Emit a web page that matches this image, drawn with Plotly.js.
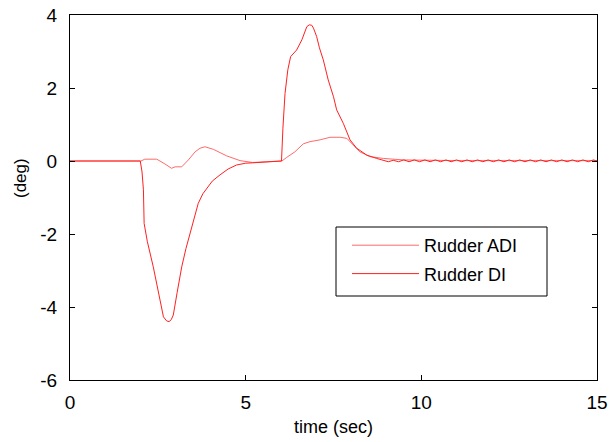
<!DOCTYPE html>
<html>
<head>
<meta charset="utf-8">
<script src="https://cdn.plot.ly/plotly-3.0.1.min.js"></script>
<style>html,body{margin:0;padding:0;background:#fff;}#chart{width:611px;height:442px;}</style>
</head>
<body>
<div id="chart"></div>
<script>
// Rudder DI (large excursion)
const tDI = [0, 2.0, 2.05, 2.09, 2.11, 2.2, 2.37, 2.5, 2.66, 2.75, 2.82, 2.88, 2.94, 3.05, 3.18, 3.3, 3.42, 3.55, 3.65, 3.78, 3.89, 4.05, 4.27, 4.5, 4.74, 5.0, 5.2, 5.6, 6.02, 6.06, 6.12, 6.2, 6.28, 6.45, 6.6, 6.74, 6.81, 6.88, 6.93, 7.02, 7.1, 7.21, 7.35, 7.5, 7.59, 7.78, 7.97, 8.16, 8.45, 8.73, 9.06,
  9.2, 9.35, 9.5, 9.65, 9.8, 9.95, 10.1, 10.25, 10.4, 10.55, 10.7, 10.85, 11.0, 11.15, 11.3, 11.45, 11.6, 11.75, 11.9, 12.05, 12.2, 12.35, 12.5, 12.65, 12.8, 12.95, 13.1, 13.25, 13.4, 13.55, 13.7, 13.85, 14.0, 14.15, 14.3, 14.45, 14.6, 14.75, 14.9, 15.0];
const yDI = [0, 0, -0.3, -0.79, -1.71, -2.2, -2.9, -3.5, -4.27, -4.38, -4.4, -4.35, -4.22, -3.6, -2.9, -2.4, -1.98, -1.5, -1.16, -0.9, -0.75, -0.55, -0.38, -0.22, -0.11, -0.06, -0.05, -0.02, 0, 0.9, 1.85, 2.5, 2.86, 3.04, 3.32, 3.68, 3.73, 3.72, 3.64, 3.41, 3.1, 2.77, 2.22, 1.76, 1.4, 1.03, 0.58, 0.35, 0.16, 0.07, -0.02,
  0.02, -0.02, 0.03, -0.02, 0.03, -0.02, 0.03, -0.02, 0.03, -0.02, 0.03, -0.02, 0.03, -0.02, 0.03, -0.02, 0.03, -0.02, 0.03, -0.02, 0.03, -0.02, 0.03, -0.02, 0.03, -0.02, 0.03, -0.02, 0.03, -0.02, 0.03, -0.02, 0.03, -0.02, 0.03, -0.02, 0.03, -0.02, 0.03, 0];
// Rudder ADI (small excursion)
const tADI = [0, 2.02, 2.13, 2.47, 2.7, 2.89, 2.99, 3.18, 3.37, 3.56, 3.7, 3.84, 4.08, 4.46, 4.84, 5.2, 5.6, 6.03, 6.17, 6.4, 6.64, 6.83, 7.12, 7.4, 7.69, 7.88, 8.06, 8.25, 8.54, 8.92, 9.49, 10, 11, 12, 13, 14, 15];
const yADI = [0, 0, 0.05, 0.05, -0.08, -0.2, -0.16, -0.16, 0.03, 0.25, 0.35, 0.39, 0.32, 0.14, 0.01, -0.04, -0.02, 0, 0.1, 0.25, 0.47, 0.53, 0.58, 0.65, 0.65, 0.62, 0.44, 0.25, 0.12, 0.07, 0.03, 0.02, 0.01, 0.01, 0.01, 0.01, 0.01];

const seriesNames = ['Rudder ADI', 'Rudder DI'];
const xTicks = [0, 5, 10, 15];
const xTickText = ['0', '5', '10', '15'];
const yTicks = [-6, -4, -2, 0, 2, 4];
const yTickText = ['-6', '-4', '-2', '0', '2', '4'];

const FONT = 'Arial, "Liberation Sans", sans-serif';

const traces = [
  {x: tADI, y: yADI, name: seriesNames[0], type: 'scatter', mode: 'lines',
   line: {color: '#ff6a6a', width: 1}, legendgroup: 'a'},
  {x: tDI, y: yDI, name: seriesNames[1], type: 'scatter', mode: 'lines',
   line: {color: '#ff2020', width: 1}, legendgroup: 'b'}
];

const W = 611, H = 442, L = 70, R = 14, T = 15, B = 62;
const pw = W - L - R, ph = H - T - B;
const px = v => (v - L) / pw;
const py = v => (H - B - v) / ph;

const layout = {
  width: W, height: H,
  margin: {l: L, r: R, t: T, b: B, pad: 0},
  paper_bgcolor: '#fff', plot_bgcolor: '#fff',
  font: {family: FONT, size: 17, color: '#000'},
  showlegend: true,
  legend: {x: px(347), y: py(227), xanchor: 'left', yanchor: 'top',
    bgcolor: 'rgba(0,0,0,0)', borderwidth: 0, font: {family: FONT, size: 18},
    itemwidth: 67, traceorder: 'grouped', tracegroupgap: 2},
  xaxis: {range: [0, 15], tickvals: xTicks, ticktext: xTickText, ticks: 'inside', ticklen: 5, tickcolor: '#000',
    showline: true, linecolor: '#000', linewidth: 1, mirror: 'ticks', showgrid: false, zeroline: false,
    ticklabelstandoff: 5, tickfont: {family: FONT, size: 19},
    title: {text: 'time (sec)', font: {family: FONT, size: 18}, standoff: 8}},
  yaxis: {range: [-6, 4], tickvals: yTicks, ticktext: yTickText, ticks: 'inside', ticklen: 5, tickcolor: '#000',
    showline: true, linecolor: '#000', linewidth: 1, mirror: 'ticks', showgrid: false, zeroline: false,
    ticklabelstandoff: 8, tickfont: {family: FONT, size: 19}},
  shapes: [
    {type: 'rect', xref: 'paper', yref: 'paper', x0: px(336), x1: px(547), y0: py(227), y1: py(296),
     line: {color: '#000', width: 1}, fillcolor: 'rgba(0,0,0,0)'}
  ],
  annotations: [
    {text: '(deg)', xref: 'paper', yref: 'paper', x: px(20), y: py(178), showarrow: false,
     textangle: -90, xanchor: 'center', yanchor: 'middle', font: {family: FONT, size: 17}}
  ]
};

Plotly.newPlot('chart', traces, layout, {displayModeBar: false, staticPlot: true});
</script>
</body>
</html>
